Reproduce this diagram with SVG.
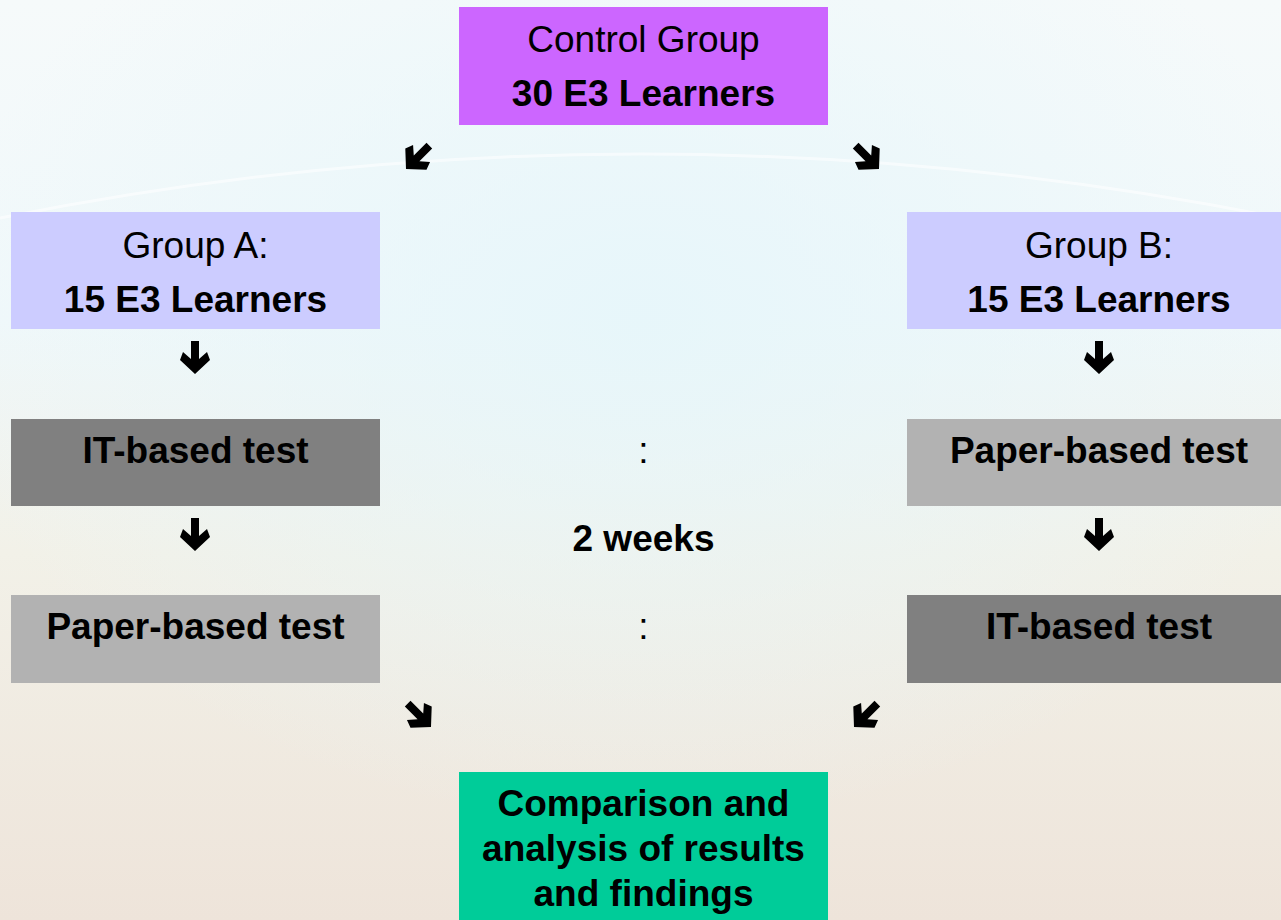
<svg xmlns="http://www.w3.org/2000/svg" width="1281" height="920" viewBox="0 0 1281 920">
  <defs>
    <linearGradient id="bg" x1="0" y1="0" x2="0" y2="1">
      <stop offset="0" stop-color="#F6FAFA"/>
      <stop offset="0.35" stop-color="#F0F8FA"/>
      <stop offset="0.6" stop-color="#F2F1E8"/>
      <stop offset="1" stop-color="#EEE4DA"/>
    </linearGradient>
    <radialGradient id="glow" cx="0.5" cy="0.35" r="0.55">
      <stop offset="0" stop-color="#E6F6FA" stop-opacity="0.9"/>
      <stop offset="1" stop-color="#E6F6FA" stop-opacity="0"/>
    </radialGradient>
    <polygon id="arr" points="0,0 -15,-14 -12,-22 -4,-15 -4,-33 4,-33 4,-15 12,-22 15,-14" fill="#000"/>
    <style>
      .t { font-family: "Liberation Sans", Arial, sans-serif; font-size: 37px; fill: #000; text-anchor: middle; }
      .b { font-weight: bold; }
    </style>
  </defs>
  <rect width="1281" height="920" fill="url(#bg)"/>
  <rect width="1281" height="920" fill="url(#glow)"/>
  <path d="M0,218 Q640,90 1281,218" fill="none" stroke="#FFFFFF" stroke-opacity="0.55" stroke-width="3"/>

  <g id="control">
    <rect x="459" y="7" width="369" height="118" fill="#CC66FF"/>
    <text class="t" x="643.5" y="52">Control Group</text>
    <text class="t b" x="643.5" y="106">30 E3 Learners</text>
  </g>
  <g id="groupA">
    <rect x="11" y="212" width="369" height="117" fill="#CCCCFF"/>
    <text class="t" x="195.5" y="258">Group A:</text>
    <text class="t b" x="195.5" y="312">15 E3 Learners</text>
  </g>
  <g id="groupB">
    <rect x="907" y="212" width="374" height="117" fill="#CCCCFF"/>
    <text class="t" x="1099" y="258">Group B:</text>
    <text class="t b" x="1099" y="312">15 E3 Learners</text>
  </g>
  <g id="itA">
    <rect x="11" y="419" width="369" height="87" fill="#808080"/>
    <text class="t b" x="195.5" y="463">IT-based test</text>
  </g>
  <g id="paperB">
    <rect x="907" y="419" width="374" height="87" fill="#B2B2B2"/>
    <text class="t b" x="1099" y="463">Paper-based test</text>
  </g>
  <g id="paperA">
    <rect x="11" y="595" width="369" height="88" fill="#B2B2B2"/>
    <text class="t b" x="195.5" y="639">Paper-based test</text>
  </g>
  <g id="itB">
    <rect x="907" y="595" width="374" height="88" fill="#808080"/>
    <text class="t b" x="1099" y="639">IT-based test</text>
  </g>
  <g id="interval">
    <text class="t" x="643.5" y="463">:</text>
    <text class="t b" x="643.5" y="551">2 weeks</text>
    <text class="t" x="643.5" y="639">:</text>
  </g>
  <g id="comparison">
    <rect x="459" y="772" width="369" height="148" fill="#00CC99"/>
    <text class="t b" x="643.5" y="816">Comparison and</text>
    <text class="t b" x="643.5" y="861">analysis of results</text>
    <text class="t b" x="643.5" y="906">and findings</text>
  </g>

  <g id="connectors">
    <use href="#arr" transform="translate(406,169) rotate(45)"/>
    <use href="#arr" transform="translate(879,169) rotate(-45)"/>
    <use href="#arr" transform="translate(195,374)"/>
    <use href="#arr" transform="translate(1099,374)"/>
    <use href="#arr" transform="translate(195,551)"/>
    <use href="#arr" transform="translate(1099,551)"/>
    <use href="#arr" transform="translate(431,727) rotate(-45)"/>
    <use href="#arr" transform="translate(854,727) rotate(45)"/>
  </g>
</svg>
